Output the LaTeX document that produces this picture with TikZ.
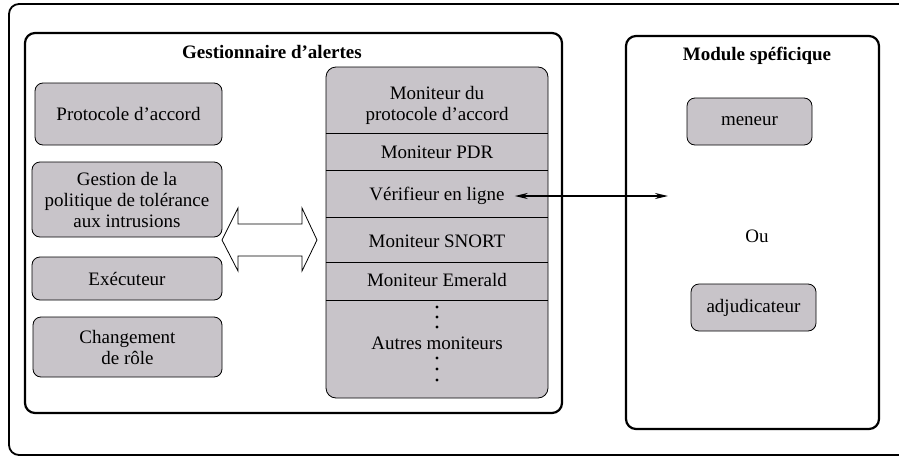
\documentclass[tikz,border=0pt]{standalone}
\usepackage{fontspec}
\setmainfont{Liberation Serif}
\usetikzlibrary{arrows.meta}
\usetikzlibrary{positioning}
\definecolor{boxgray}{RGB}{200,196,201}
\tikzset{
    comp/.style={
           rectangle,
           rounded corners=8pt,
           draw=black, line width=0.8pt,
           fill=boxgray,
           inner sep=2pt,
           align=center,
           },
    frame/.style={
           rectangle,
           rounded corners=10pt,
           draw=black, line width=2.2pt,
           },
    cell/.style={inner sep=3pt, align=center},
}

\begin{document}
\begin{tikzpicture}[x=1pt,y=-1pt,font=\fontsize{19}{21}\selectfont]
 \useasboundingbox (0,0) rectangle (899,458);

 % outer frame, its right side runs off the page
 \draw[line width=1.8pt, rounded corners=10pt] (9,4) rectangle (930,455);

 % Gestionnaire d'alertes
 \node[frame, minimum width=537pt, minimum height=380pt] (Gestionnaire) at (293.5,223) {};
 \node[font=\fontsize{19}{21}\selectfont\bfseries] (Gestionnaire title) at (272,52) {Gestionnaire d’alertes};

 % components on the left
 \node[comp, minimum width=187pt, minimum height=62pt] (Protocole) at (128.5,114) {Protocole d’accord};
 \node[comp, minimum width=190pt, minimum height=75pt] (Gestion) at (127,199.5)
  {Gestion de la\\politique de tolérance\\aux intrusions};
 \node[comp, minimum width=190pt, minimum height=43pt] (Executeur) at (127,278.5) {Exécuteur};
 \node[comp, minimum width=189pt, minimum height=60pt] (Role) at (127.5,347) {Changement\\de rôle};

 % stack of monitors
 \node[comp, rounded corners=10pt, minimum width=222pt, minimum height=331pt] (Moniteurs) at (437,232.5) {};
 \foreach \y in {133,170,217,262,300}
  \draw[line width=0.8pt] (Moniteurs.west |- 0,\y) -- (Moniteurs.east |- 0,\y);
 \node[cell] (Moniteur accord) at (437,105) {Moniteur du\\protocole d’accord};
 \node[cell] (Moniteur PDR) at (437,152) {Moniteur PDR};
 \node[cell] (Verifieur) at (437,196) {Vérifieur en ligne};
 \node[cell] (Moniteur SNORT) at (437,241) {Moniteur SNORT};
 \node[cell] (Moniteur Emerald) at (437,280) {Moniteur Emerald};
 \node[cell] (Autres) at (437,343) {Autres moniteurs};
 \foreach \y in {307,317,327,358,369,380}
  \fill (437,\y) circle (1.6);

 % hollow double arrow between the components and the monitors
 \draw[line width=0.8pt, fill=white]
  (222,240) -- (238,208) -- (238,224) -- (302,224) -- (302,208) -- (317,240)
  -- (302,271) -- (302,256) -- (238,256) -- (238,271) -- cycle;

 % Module specifique
 \node[frame, minimum width=253pt, minimum height=393pt] (Module) at (752.5,232.5) {};
 \node[font=\fontsize{19}{21}\selectfont\bfseries] (Module title) at (757,56) {Module spéficique};
 \node[comp, minimum width=125pt, minimum height=47pt] (Meneur) at (749.5,121.5) {meneur};
 \node (Ou) at (757,236) {Ou};
 \node[comp, minimum width=125pt, minimum height=47pt] (Adjudicateur) at (753.5,307.5) {adjudicateur};

 % link between the online checker and the module
 \coordinate (Module link) at (Verifieur.east -| 668,0);
 \draw[{Stealth[length=13pt,width=6pt]}-{Stealth[length=13pt,width=6pt]}, line width=1.8pt]
  ([xshift=7pt]Verifieur.east) -- (Module link);
\end{tikzpicture}
\end{document}
